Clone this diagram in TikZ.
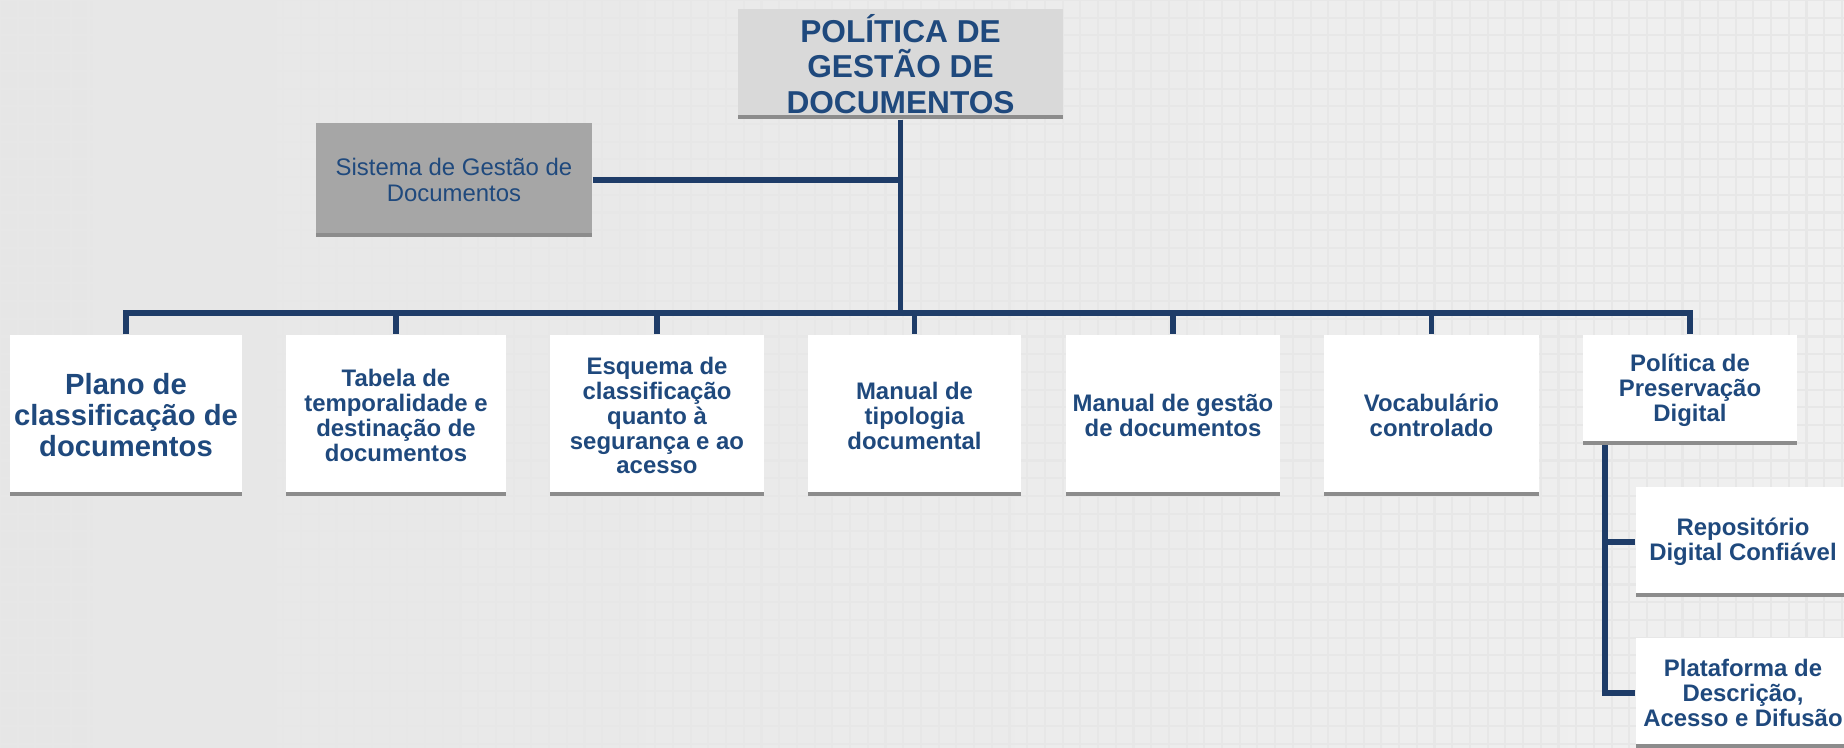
\documentclass[tikz,border=0pt]{standalone}
\usepackage{fontspec}
\setmainfont{Liberation Sans}
\usepackage{tikz}
\definecolor{azul}{RGB}{31,73,125}
\definecolor{linha}{RGB}{30,60,104}
\definecolor{sombra}{RGB}{140,140,140}
\definecolor{cinzaclaro}{RGB}{217,217,217}
\definecolor{cinza}{RGB}{166,166,166}
\definecolor{fundo}{RGB}{240,240,240}
\definecolor{fundoesq}{RGB}{230,230,230}
\definecolor{grade}{RGB}{231,231,231}
\tikzset{
    box/.style={fill=white,inner sep=0pt,align=center,text=azul,
        font=\fontsize{6.8}{7.1}\selectfont\bfseries,
        path picture={\fill[sombra] (path picture bounding box.south west) rectangle ([yshift=0.04cm]path picture bounding box.south east);}},
    link/.style={draw=linha,line width=1.6pt}
}

\begin{document}
\begin{tikzpicture}[x=0.01cm,y=-0.01cm]
    \useasboundingbox (0,0) rectangle (1844,748);
    \shade[left color=fundoesq,right color=fundo] (0,0) rectangle (1844,748);
    \draw[grade,line width=0.6pt,step=0.177cm] (0,748) grid (1844,0);

    \node[box,fill=cinzaclaro,minimum width=3.25cm,minimum height=1.10cm,font=\fontsize{9}{10}\selectfont\bfseries] (titulo) at (900.5,64) {POLÍTICA DE\\GESTÃO DE\\DOCUMENTOS};
    \node[box,fill=cinza,minimum width=2.76cm,minimum height=1.14cm,font=\fontsize{6.8}{7.4}\selectfont] (sistema) at (454,180) {Sistema de Gestão de\\Documentos};

    \node[box,minimum width=2.32cm,minimum height=1.61cm,font=\fontsize{8.3}{8.8}\selectfont\bfseries] (plano) at (126,415.5) {Plano de\\classificação de\\documentos};
    \node[box,minimum width=2.20cm,minimum height=1.61cm] (tabela) at (396,415.5) {Tabela de\\temporalidade e\\destinação de\\documentos};
    \node[box,minimum width=2.14cm,minimum height=1.61cm] (esquema) at (657,415.5) {Esquema de\\classificação\\quanto à\\segurança e ao\\acesso};
    \node[box,minimum width=2.13cm,minimum height=1.61cm] (tipologia) at (914.5,415.5) {Manual de\\tipologia\\documental};
    \node[box,minimum width=2.14cm,minimum height=1.61cm] (gestao) at (1173,415.5) {Manual de gestão\\de documentos};
    \node[box,minimum width=2.15cm,minimum height=1.61cm] (vocabulario) at (1431.5,415.5) {Vocabulário\\controlado};
    \node[box,minimum width=2.14cm,minimum height=1.10cm] (preservacao) at (1690,390) {Política de\\Preservação\\Digital};

    \node[box,minimum width=2.14cm,minimum height=1.10cm] (repositorio) at (1743,542) {Repositório\\Digital Confiável};
    \node[box,minimum width=2.14cm,minimum height=1.10cm] (plataforma) at (1743,693) {Plataforma de\\Descrição,\\Acesso e Difusão};

    % tronco e barramento
    \coordinate (bus) at (900.5,313);
    \coordinate (ramo) at (1605,445);
    \draw[link] (titulo.south) -- (bus);
    \draw[link] (sistema.east) -- (sistema.east -| titulo.south);
    \draw[link] (plano.north) |- (bus) -| (preservacao.north);
    \draw[link] (tabela.north |- bus) -- (tabela.north);
    \draw[link] (esquema.north |- bus) -- (esquema.north);
    \draw[link] (tipologia.north |- bus) -- (tipologia.north);
    \draw[link] (gestao.north |- bus) -- (gestao.north);
    \draw[link] (vocabulario.north |- bus) -- (vocabulario.north);

    % preservacao digital
    \draw[link] (ramo) |- (plataforma.west);
    \draw[link] (ramo |- repositorio.west) -- (repositorio.west);
\end{tikzpicture}
\end{document}
